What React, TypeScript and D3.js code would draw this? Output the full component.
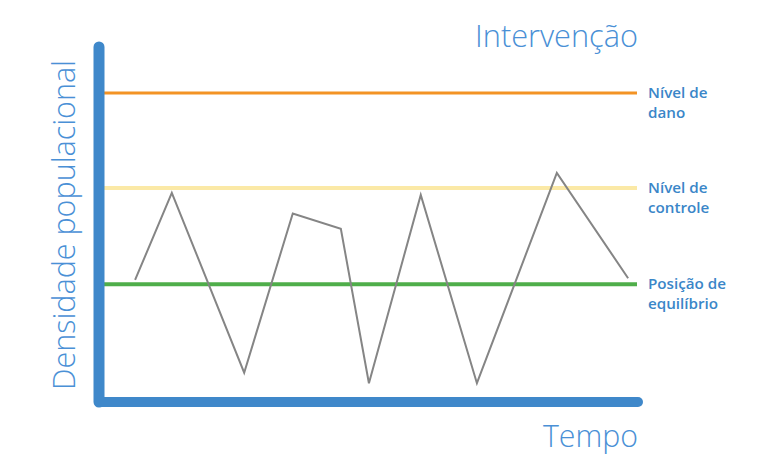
import React from "react";
import * as d3 from "d3";

const W = 768;
const H = 463;

// Population density over time (arbitrary units)
const timeValues = [6.5, 13.3, 26.7, 35.7, 44.6, 49.8, 59.4, 69.8, 84.6, 97.8];
const densityValues = [34.3, 59.2, 7.8, 53.3, 48.9, 4.8, 58.6, 4.8, 64.9, 34.8];

const levelNames = ["dano", "controle", "equilibrio"];
const levelValues = [87.7, 60.6, 33.1];
const levelColors = ["#f39325", "#fbe9a6", "#4fae4a"];
const levelWidths = [3, 4, 4];
const levelLabels = [
  ["Nível de", "dano"],
  ["Nível de", "controle"],
  ["Posição de", "equilíbrio"],
];

const titleText = "Intervenção";
const xLabel = "Tempo";
const yLabel = "Densidade populacional";

export default function App() {
  const x = d3.scaleLinear().domain([0, 100]).range([100, 640]);
  const y = d3.scaleLinear().domain([0, 100]).range([400, 50]);
  const line = d3
    .line<number>()
    .x((_, i) => x(timeValues[i]))
    .y((d) => y(d));

  const axisBlue = "#3f88ca";
  const textBlue = "#4a90d6";
  const labelBlue = "#3a86c8";
  const font = "'Open Sans', 'Noto Sans', sans-serif";

  return (
    <svg
      width={W}
      height={H}
      style={{ position: "absolute", left: 0, top: 0, background: "#fff" }}
    >
      {levelValues.map((v, i) => (
        <line
          key={levelNames[i]}
          x1={104}
          x2={637}
          y1={y(v)}
          y2={y(v)}
          stroke={levelColors[i]}
          strokeWidth={levelWidths[i]}
        />
      ))}
      <path
        d={line(densityValues) || ""}
        fill="none"
        stroke="#858585"
        strokeWidth={2}
        strokeLinejoin="miter"
      />
      {/* axes */}
      <line
        x1={99}
        x2={99}
        y1={47}
        y2={402}
        stroke={axisBlue}
        strokeWidth={11}
        strokeLinecap="round"
      />
      <line
        x1={99}
        x2={638}
        y1={402}
        y2={402}
        stroke={axisBlue}
        strokeWidth={10}
        strokeLinecap="round"
      />
      {levelValues.map((v, i) =>
        levelLabels[i].map((t, j) => (
          <text
            key={"l" + i + "_" + j}
            x={648}
            y={y(v) + 5 + j * 20}
            fill={labelBlue}
            fontFamily={font}
            fontSize={15.2}
            fontWeight={600}
          >
            {t}
          </text>
        ))
      )}
      <text
        x={638}
        y={47}
        textAnchor="end"
        fill={textBlue}
        fontFamily={font}
        fontSize={31}
        fontWeight={300}
        textLength={163}
        lengthAdjust="spacingAndGlyphs"
      >
        {titleText}
      </text>
      <text
        x={638}
        y={447}
        textAnchor="end"
        fill={textBlue}
        fontFamily={font}
        fontSize={32}
        fontWeight={300}
        textLength={95}
        lengthAdjust="spacingAndGlyphs"
      >
        {xLabel}
      </text>
      <text
        transform={`translate(75,${225}) rotate(-90)`}
        textAnchor="middle"
        fill={textBlue}
        fontFamily={font}
        fontSize={31}
        fontWeight={300}
        textLength={330}
        lengthAdjust="spacingAndGlyphs"
      >
        {yLabel}
      </text>
    </svg>
  );
}
